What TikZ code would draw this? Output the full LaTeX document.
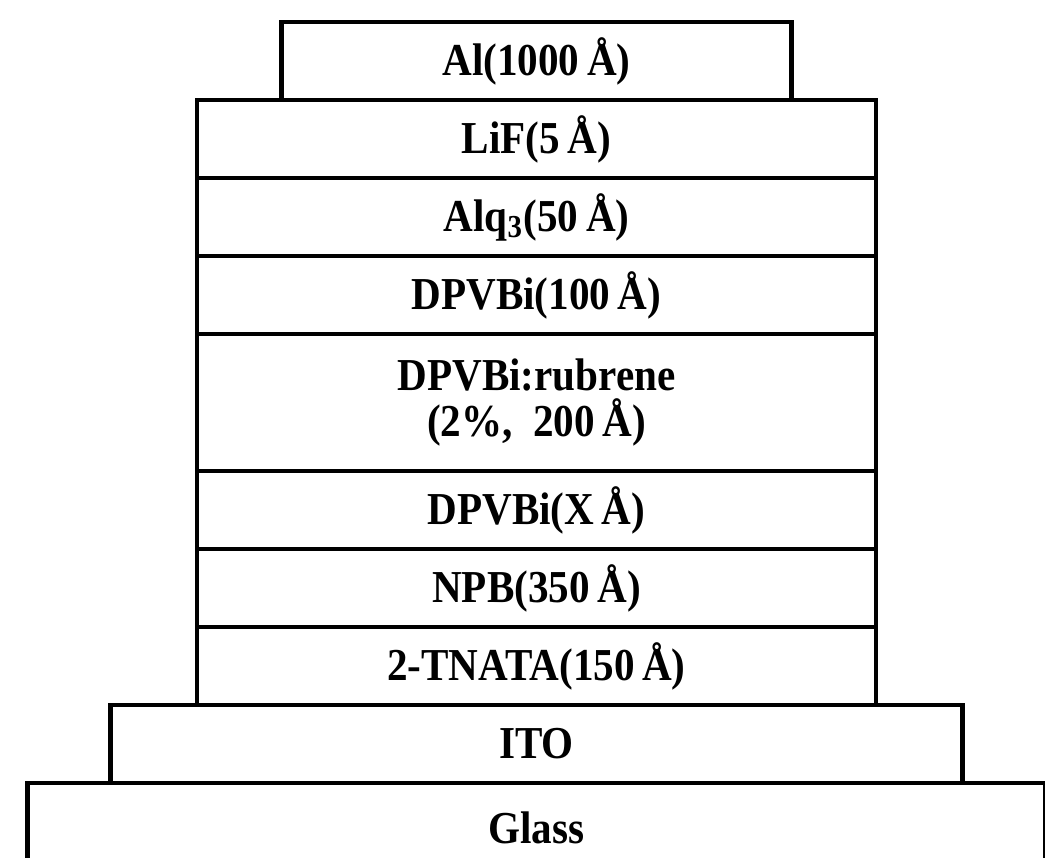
\documentclass[tikz,border=0pt]{standalone}
\usepackage{fontspec}
\setmainfont{Liberation Serif}[FakeStretch=0.9]
\usetikzlibrary{positioning}

\begin{document}
\begin{tikzpicture}[
  layer/.style={draw, line width=1.4pt, outer sep=0pt, inner sep=0pt,
                minimum height=0.78cm, align=center,
                font=\bfseries\fontsize{13}{13}\selectfont}]
\useasboundingbox (0,0) rectangle (10.45,-8.58);

\node[layer, minimum width=6.79cm, anchor=north] (LiF) at (5.365,-1.00) {LiF(5\,Å)};
\node[layer, minimum width=5.10cm, above=0pt of LiF] (Al) {Al(1000\,Å)};
\node[layer, minimum width=6.79cm, below=0pt of LiF] (Alq) {Alq\textsubscript{3}(50\,Å)};
\node[layer, minimum width=6.79cm, below=0pt of Alq] (DPVBi) {DPVBi(100\,Å)};
\node[layer, minimum width=6.79cm, minimum height=1.37cm, below=0pt of DPVBi] (rubrene) {DPVBi:rubrene\\(2\%,\ \ 200\,Å)};
\node[layer, minimum width=6.79cm, below=0pt of rubrene] (DPVBiX) {DPVBi(X\,Å)};
\node[layer, minimum width=6.79cm, below=0pt of DPVBiX] (NPB) {NPB(350\,Å)};
\node[layer, minimum width=6.79cm, below=0pt of NPB] (TNATA) {2-TNATA(150\,Å)};
\node[layer, minimum width=8.52cm, below=0pt of TNATA] (ITO) {ITO};
\node[layer, draw=none, minimum width=10.18cm, minimum height=0.9cm, below=0pt of ITO] (Glass) {Glass};

\draw[line width=1.4pt] (Glass.south west) -- (Glass.north west)
  -- (Glass.north east) -- (Glass.south east);
\end{tikzpicture}
\end{document}
